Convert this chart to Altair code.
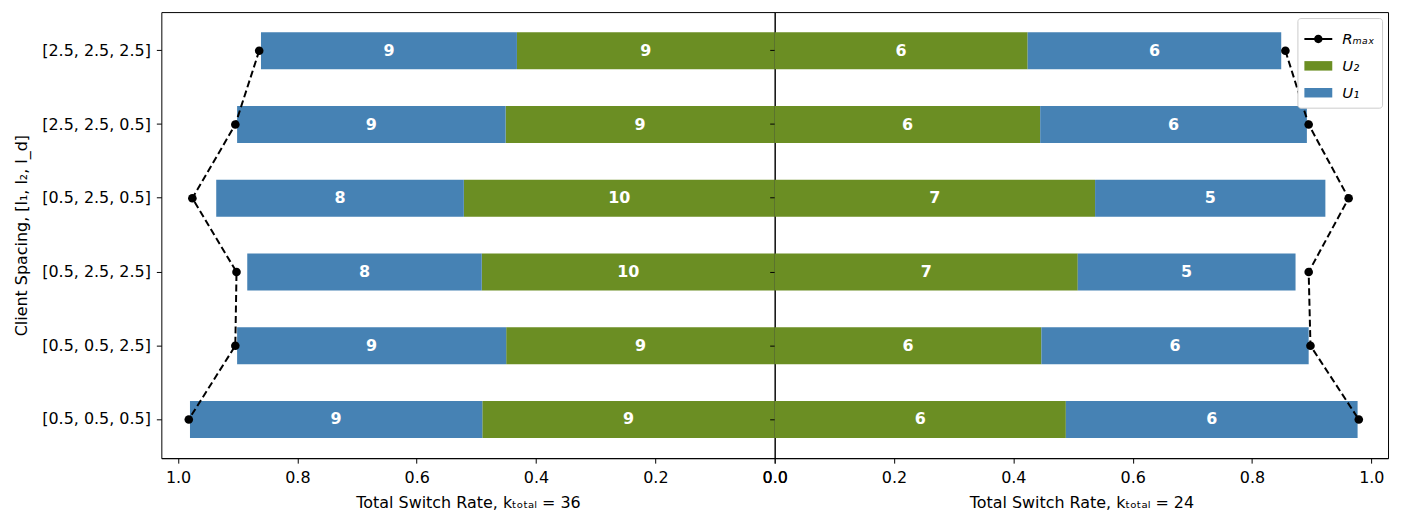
import altair as alt
import pandas as pd

categories = ["[2.5, 2.5, 2.5]", "[2.5, 2.5, 0.5]", "[0.5, 2.5, 0.5]",
              "[0.5, 2.5, 2.5]", "[0.5, 0.5, 2.5]", "[0.5, 0.5, 0.5]"]

# left panel (k_total = 36)
left_u2 = [0.432, 0.451, 0.521, 0.491, 0.450, 0.490]
left_total = [0.861, 0.901, 0.936, 0.884, 0.901, 0.980]
left_rmax = [0.864, 0.904, 0.976, 0.902, 0.904, 0.982]
left_u2_count = [9, 9, 10, 10, 9, 9]
left_u1_count = [9, 9, 8, 8, 9, 9]

# right panel (k_total = 24)
right_u2 = [0.424, 0.445, 0.537, 0.508, 0.447, 0.488]
right_total = [0.849, 0.892, 0.923, 0.873, 0.895, 0.977]
right_rmax = [0.856, 0.895, 0.962, 0.895, 0.898, 0.979]
right_u2_count = [6, 6, 7, 7, 6, 6]
right_u1_count = [6, 6, 5, 5, 6, 6]

series_names = ["Rₘₐₓ", "U₂", "U₁"]
series_colors = ["black", "#6b8e23", "#4682b4"]
# legend symbols: line-with-marker handle, and two patches
series_symbols = [
    "M-1,-0.07H1V0.07H-1ZM-0.3,0A0.3,0.3,0,1,1,0.3,0A0.3,0.3,0,1,1,-0.3,0Z",
    "M-1,-0.34H1V0.34H-1Z",
    "M-1,-0.34H1V0.34H-1Z",
]
x_ticks = [0.0, 0.2, 0.4, 0.6, 0.8, 1.0]
left_title = "Total Switch Rate, kₜₒₜₐₗ = 36"
right_title = "Total Switch Rate, kₜₒₜₐₗ = 24"
y_title = "Client Spacing, [l₁, l₂, l_d]"

FONT = "DejaVu Sans"
XMAX = 1.028
PANEL_W = 616
PANEL_H = 448


def build(u2, total, rmax, c2, c1):
    rows = []
    for i, cat in enumerate(categories):
        rows.append(dict(cat=cat, idx=i, series="U₂", start=0.0, end=u2[i], count=c2[i]))
        rows.append(dict(cat=cat, idx=i, series="U₁", start=u2[i], end=total[i], count=c1[i]))
    bars = pd.DataFrame(rows)
    line = pd.DataFrame(dict(cat=categories, idx=list(range(len(categories))), rmax=rmax))
    return bars, line


def panel(u2, total, rmax, c2, c1, reverse, xtitle, left):
    bars, line = build(u2, total, rmax, c2, c1)
    xscale = alt.Scale(domain=[0, XMAX], reverse=reverse, nice=False, zero=False)
    yscale = alt.Scale(domain=categories, paddingInner=0.5, paddingOuter=0.275)
    xaxis = alt.Axis(values=x_ticks, format=".1f", title=xtitle, grid=False,
                     labelPadding=6, titlePadding=10, labelFlush=False)
    if left:
        yaxis = alt.Axis(title=y_title, grid=False, labelPadding=6, titlePadding=12,
                         domain=False)
    else:
        yaxis = alt.Axis(title=None, labels=False, grid=False, domain=False)
    y = alt.Y("cat:N", scale=yscale, axis=yaxis, sort=categories)

    if left:
        legend = None
    else:
        legend = alt.Legend(
            title=None, orient="top-right", offset=6, padding=7,
            strokeColor="#cccccc", fillColor="white", cornerRadius=3,
            labelFont=FONT, labelFontSize=15, labelFontStyle="italic", labelColor="black",
            symbolSize=784, rowPadding=5, labelOffset=10, symbolStrokeWidth=0,
            symbolOpacity=1)
    cscale = alt.Scale(domain=series_names, range=series_colors)
    sscale = alt.Scale(domain=series_names, range=series_symbols)
    color = alt.Color("series:N", scale=cscale, legend=legend)

    layers = []
    bar = alt.Chart(bars).mark_bar(opacity=1, strokeWidth=0).encode(
        x=alt.X("start:Q", scale=xscale, axis=xaxis),
        x2="end:Q",
        y=y,
        color=color,
    )
    layers.append(bar)
    text = alt.Chart(bars).transform_calculate(
        mid="(datum.start + datum.end) / 2"
    ).mark_text(font=FONT, fontSize=16, fontWeight="bold", color="white",
                align="center", baseline="middle").encode(
        x=alt.X("mid:Q", scale=xscale, axis=xaxis),
        y=y,
        text="count:Q",
    )
    layers.append(text)
    rline = alt.Chart(line).mark_line(color="black", strokeWidth=2, strokeDash=[7, 3.5]).encode(
        x=alt.X("rmax:Q", scale=xscale, axis=xaxis),
        y=y,
        order=alt.Order("idx:Q"),
    )
    layers.append(rline)
    rpts = alt.Chart(line).mark_circle(color="black", size=75, opacity=1).encode(
        x=alt.X("rmax:Q", scale=xscale, axis=xaxis),
        y=y,
    )
    layers.append(rpts)
    if not left:
        # empty layer that only carries the legend's symbol shapes
        leg = alt.Chart(bars).transform_filter("false").mark_point(
            filled=True, opacity=1, strokeWidth=0).encode(
            x=alt.X("start:Q", scale=xscale, axis=xaxis),
            y=y,
            color=color,
            shape=alt.Shape("series:N", scale=sscale, legend=legend),
        )
        layers.append(leg)
    return alt.layer(*layers).properties(width=PANEL_W, height=PANEL_H)


left_chart = panel(left_u2, left_total, left_rmax, left_u2_count, left_u1_count,
                   True, left_title, True)
right_chart = panel(right_u2, right_total, right_rmax, right_u2_count, right_u1_count,
                    False, right_title, False)

chart = alt.hconcat(left_chart, right_chart, spacing=0, bounds="flush").resolve_scale(
    x="independent", y="independent", color="independent", shape="independent"
).resolve_legend(color="independent", shape="independent").properties(
    padding={"left": 5, "top": 2, "right": 5, "bottom": 5}
).configure_view(
    stroke="black", strokeWidth=1
).configure_axis(
    domainColor="black", tickColor="black", tickSize=5, labelColor="black", titleColor="black",
    labelFont=FONT, labelFontSize=16, titleFont=FONT, titleFontSize=16, titleFontWeight="normal",
    domainWidth=1, tickWidth=1
)

chart.save("out.html", embed_options={"renderer": "svg", "actions": False})
